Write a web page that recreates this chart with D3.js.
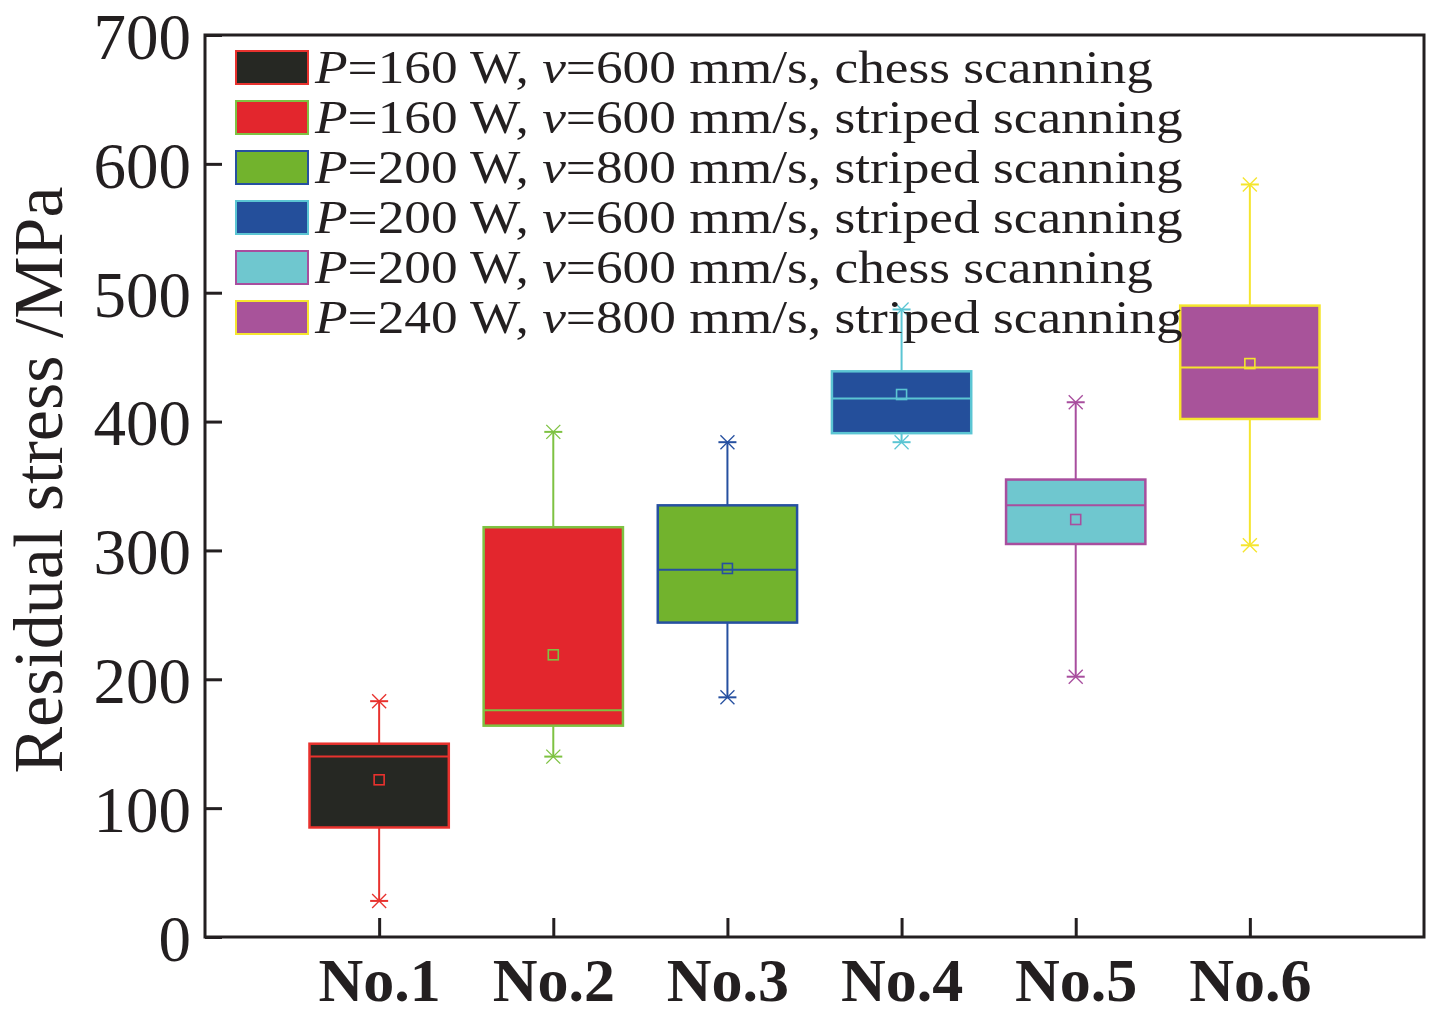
<!DOCTYPE html>
<html><head><meta charset="utf-8">
<script src="https://cdn.jsdelivr.net/npm/d3@7"></script>
<style>body{margin:0;background:#fff}svg{display:block}</style>
</head><body>
<svg id="c" width="1434" height="1018"></svg>
<script>
const categories = ["No.1","No.2","No.3","No.4","No.5","No.6"];
const whiskerLow  = [28, 140, 186, 384, 202, 304];
const q1          = [85, 164, 244, 391, 305, 402];
const median      = [140, 176, 285, 418, 335, 442];
const q3          = [150, 318, 335, 439, 355, 490];
const whiskerHigh = [183, 392, 384, 487, 415, 584];
const means       = [122, 219, 286, 421, 324, 445];
const legendP     = ["160","160","200","200","200","240"];
const legendV     = ["600","600","800","600","600","800"];
const legendMode  = ["chess","striped","striped","striped","chess","striped"];
const yTicks      = [0,100,200,300,400,500,600,700];
const fills   = ["#262823","#e3262d","#72b32d","#244f9b","#6fc7cf","#a8539a"];
const strokes = ["#e8322e","#7ec242","#2650a0","#5bc5d3","#a84e9e","#f5e52e"];

const svg = d3.select("#c");
const L=205, R=1424, T=35, B=937;
const x = d3.scaleLinear().domain([0,7]).range([L,R]);
const y = d3.scaleLinear().domain([0,700]).range([B,T]);
const axisColor="#231f20";
const font="'Liberation Serif','DejaVu Serif',serif";

// boxes
const bw = x(0.8)-x(0);
const g = svg.append("g");
categories.forEach((c,i)=>{
  const cx = x(i+1), col=strokes[i];
  const gg = g.append("g");
  gg.append("line").attr("x1",cx).attr("x2",cx).attr("y1",y(whiskerHigh[i])).attr("y2",y(q3[i])).attr("stroke",col).attr("stroke-width",2);
  gg.append("line").attr("x1",cx).attr("x2",cx).attr("y1",y(q1[i])).attr("y2",y(whiskerLow[i])).attr("stroke",col).attr("stroke-width",2);
  gg.append("rect").attr("x",cx-bw/2).attr("y",y(q3[i])).attr("width",bw).attr("height",y(q1[i])-y(q3[i]))
    .attr("fill",fills[i]).attr("stroke",col).attr("stroke-width",2.5);
  gg.append("line").attr("x1",cx-bw/2).attr("x2",cx+bw/2).attr("y1",y(median[i])).attr("y2",y(median[i])).attr("stroke",col).attr("stroke-width",2);
  gg.append("rect").attr("x",cx-5).attr("y",y(means[i])-5).attr("width",10).attr("height",10).attr("fill","none").attr("stroke",col).attr("stroke-width",1.6);
  [whiskerHigh[i],whiskerLow[i]].forEach(v=>{
    const yy=y(v);
    gg.append("line").attr("x1",cx-9).attr("x2",cx+9).attr("y1",yy).attr("y2",yy).attr("stroke",col).attr("stroke-width",2);
    gg.append("line").attr("x1",cx-7).attr("x2",cx+7).attr("y1",yy-7).attr("y2",yy+7).attr("stroke",col).attr("stroke-width",1.3);
    gg.append("line").attr("x1",cx-7).attr("x2",cx+7).attr("y1",yy+7).attr("y2",yy-7).attr("stroke",col).attr("stroke-width",1.3);
  });
});

// axes
const yAxis = d3.axisLeft(y).tickValues(yTicks).tickSizeInner(-17).tickSizeOuter(0).tickPadding(30);
const ya = svg.append("g").attr("transform",`translate(${L},0)`).call(yAxis);
ya.select(".domain").remove();
ya.selectAll(".tick line").attr("stroke",axisColor).attr("stroke-width",3);
ya.selectAll(".tick text").attr("font-family",font).attr("font-size",65).attr("fill",axisColor).attr("dy","0.36em").attr("x",-14);

const xAxis = d3.axisBottom(x).tickValues([1,2,3,4,5,6]).tickFormat(d=>categories[d-1]).tickSizeInner(-19).tickSizeOuter(0).tickPadding(28);
const xa = svg.append("g").attr("transform",`translate(0,${B})`).call(xAxis);
xa.select(".domain").remove();
xa.selectAll(".tick line").attr("stroke",axisColor).attr("stroke-width",3);
xa.selectAll(".tick text").attr("font-family",font).attr("font-size",62).attr("font-weight","bold").attr("fill",axisColor).attr("y",20).attr("dy","0.71em");

svg.append("rect").attr("x",L).attr("y",T).attr("width",R-L).attr("height",B-T).attr("fill","none").attr("stroke",axisColor).attr("stroke-width",3);

// y title
svg.append("text").attr("transform",`translate(62,${480}) rotate(-90)`).attr("text-anchor","middle")
  .attr("font-family",font).attr("font-size",70).attr("fill",axisColor).text("Residual stress /MPa");

// legend
const lg = svg.append("g");
categories.forEach((c,i)=>{
  const yy = 51 + i*50;
  lg.append("rect").attr("x",236).attr("y",yy).attr("width",72).attr("height",33).attr("fill",fills[i]).attr("stroke",strokes[i]).attr("stroke-width",2);
  const t = lg.append("text").attr("transform",`translate(315,${yy+32}) scale(1.135,1)`).attr("font-family",font).attr("font-size",47).attr("fill",axisColor);
  t.append("tspan").attr("font-style","italic").text("P");
  t.append("tspan").text(`=${legendP[i]} W, `);
  t.append("tspan").attr("font-style","italic").text("v");
  t.append("tspan").text(`=${legendV[i]} mm/s, ${legendMode[i]} scanning`);
});
</script>
</body></html>
